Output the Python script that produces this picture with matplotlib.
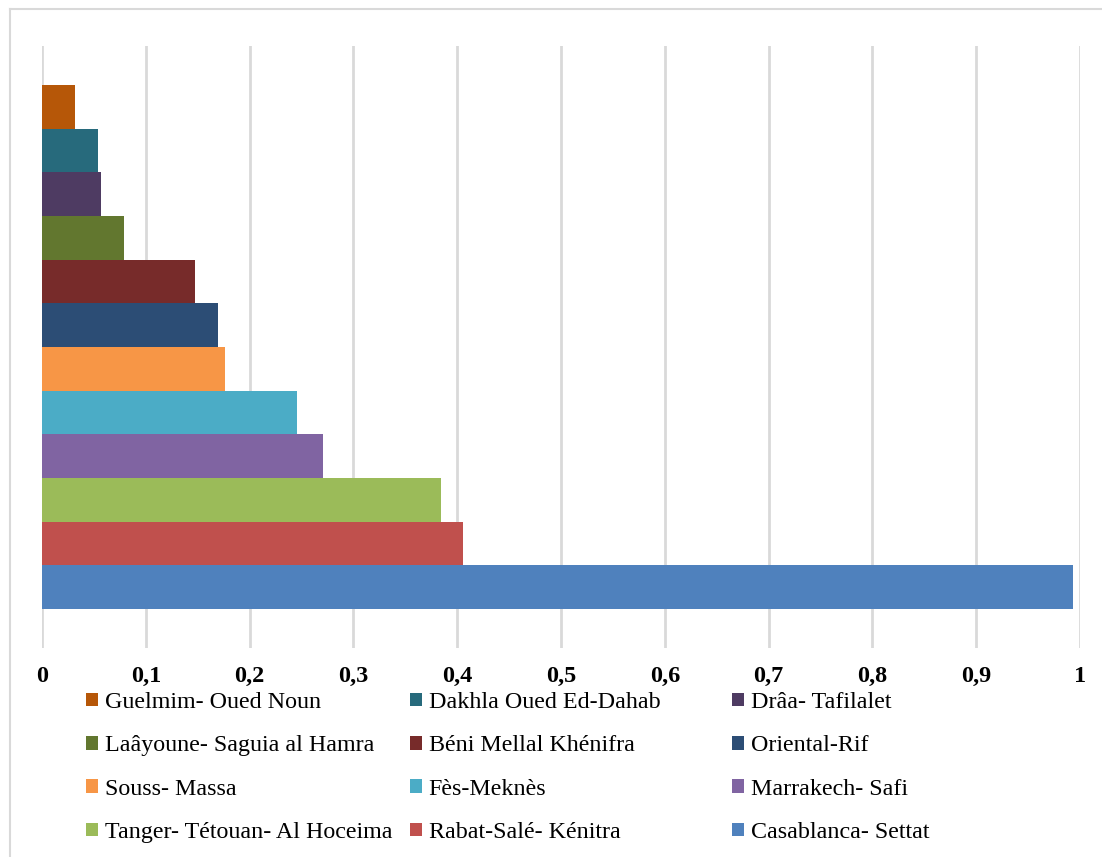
import matplotlib.pyplot as plt
from matplotlib.lines import Line2D

regions = ['Guelmim- Oued Noun', 'Dakhla Oued Ed-Dahab', 'Drâa- Tafilalet',
           'Laâyoune- Saguia al Hamra', 'Béni Mellal Khénifra', 'Oriental-Rif',
           'Souss- Massa', 'Fès-Meknès', 'Marrakech- Safi',
           'Tanger- Tétouan- Al Hoceima', 'Rabat-Salé- Kénitra', 'Casablanca- Settat']
values = [0.032, 0.054, 0.057, 0.079, 0.147, 0.170,
          0.176, 0.246, 0.271, 0.384, 0.406, 0.993]
colors = ['#B65708', '#276A7C', '#4E3B62', '#62772F', '#772B2A', '#2C4D75',
          '#F79646', '#4BACC6', '#8064A2', '#9BBB59', '#C0504D', '#4F81BD']
ticks = [0, 0.1, 0.2, 0.3, 0.4, 0.5, 0.6, 0.7, 0.8, 0.9, 1]
tick_labels = ['0', '0,1', '0,2', '0,3', '0,4', '0,5', '0,6', '0,7', '0,8', '0,9', '1']

plt.rcParams['font.family'] = ['Liberation Serif', 'DejaVu Serif']

W, H = 1102, 857
fig = plt.figure(figsize=(W / 100, H / 100), dpi=100)
ax = fig.add_axes([42 / W, 1 - 648 / H, (1080 - 42) / W, (648 - 46) / H])

# one bar per region, stacked top to bottom with no gap
n = len(values)
ypos = list(range(n))
bars = ax.barh(ypos, values, height=1.0, color=colors)
gap = 0.893
ax.set_ylim(n - 0.5 + gap, -0.5 - gap)
ax.set_xlim(0, 1)

ax.set_xticks(ticks)
ax.set_xticklabels(tick_labels, fontsize=17.5, fontweight='bold')
ax.tick_params(axis='x', length=0, pad=13)
ax.set_yticks([])
ax.grid(axis='x', color='#D9D9D9', linewidth=2)
ax.set_axisbelow(True)
for s in ax.spines.values():
    s.set_visible(False)

# legend: three fixed-width columns, entries read row by row
col_x = [86, 410, 732]
for c, x in enumerate(col_x):
    idx = list(range(c, n, 3))
    fig.legend([bars[i] for i in idx], [regions[i] for i in idx],
               loc='upper left', bbox_to_anchor=(x / W, 1 - 692 / H),
               frameon=False, prop={'family': 'Liberation Serif', 'size': 17.3},
               handlelength=0.5, handleheight=0.5, handletextpad=0.28,
               labelspacing=0.93, borderpad=0, borderaxespad=0)

# outer chart border
fig.add_artist(Line2D([10 / W, 1], [1 - 9 / H, 1 - 9 / H], color='#D9D9D9', lw=1.5))
fig.add_artist(Line2D([10 / W, 10 / W], [0, 1 - 9 / H], color='#D9D9D9', lw=1.5))

fig.savefig('out.png', dpi=100)
